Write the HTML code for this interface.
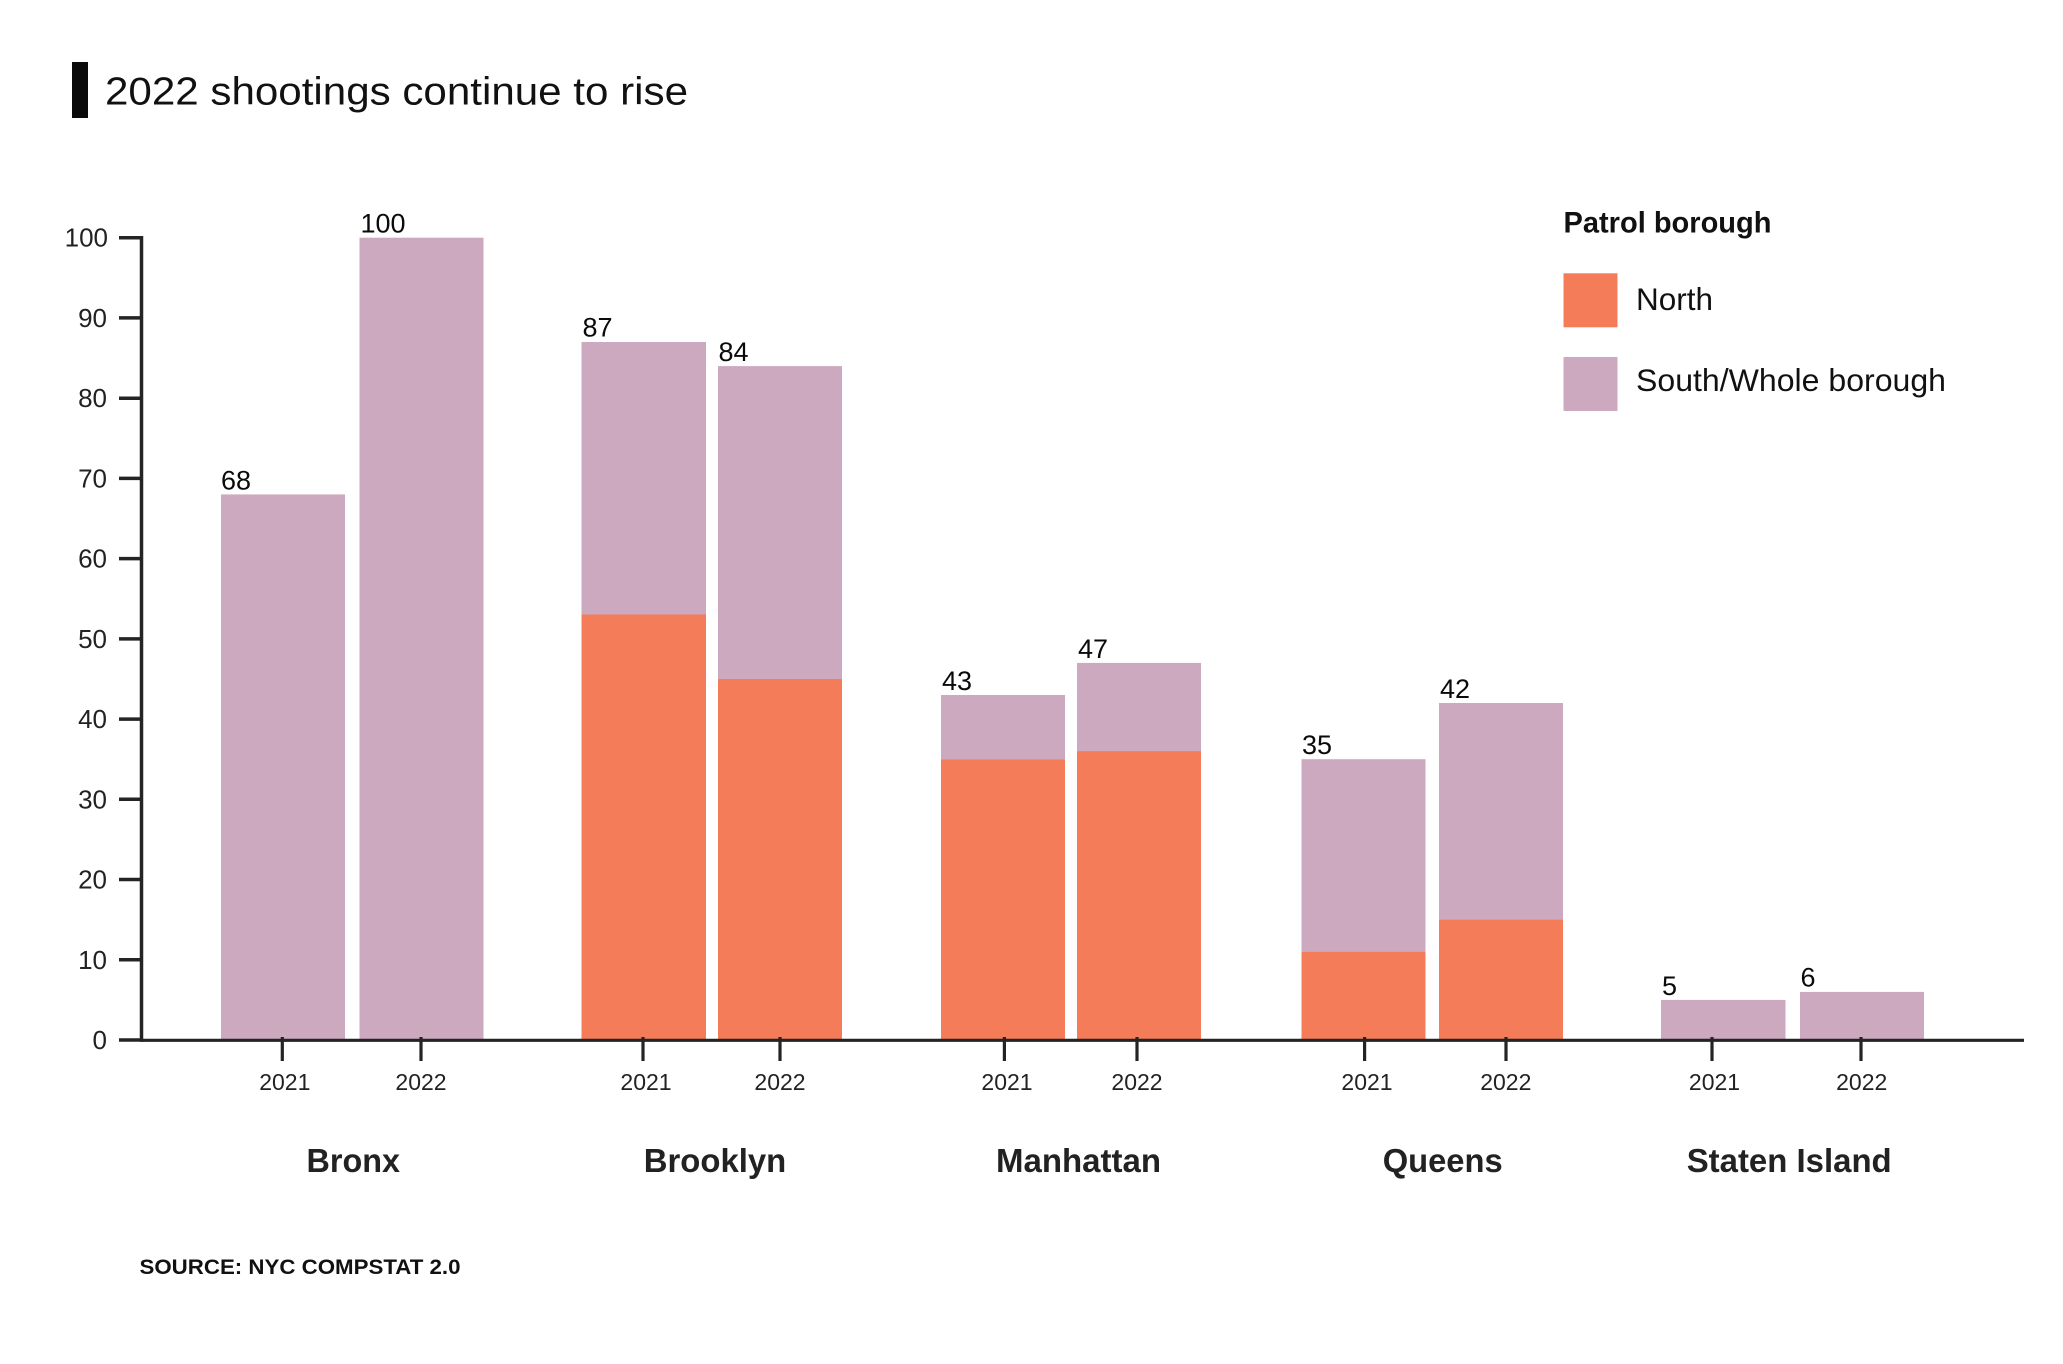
<!DOCTYPE html>
<html>
<head>
<meta charset="utf-8">
<style>
  html, body { margin: 0; padding: 0; background: #ffffff; }
  svg { display: block; }
  text { font-family: "Liberation Sans", Arial, sans-serif; }
</style>
</head>
<body>
<svg width="2063" height="1364" viewBox="0 0 2063 1364" xmlns="http://www.w3.org/2000/svg">
  <rect x="0" y="0" width="2063" height="1364" fill="#ffffff"/>

  <!-- Title -->
  <rect x="72" y="62" width="16" height="56" fill="#0a0a0a"/>
  <text x="105" y="104.5" font-size="39" fill="#111111" textLength="583" lengthAdjust="spacingAndGlyphs">2022 shootings continue to rise</text>

  <!-- Bars: South/Whole (pink) -->
  <g fill="#CDA9C0">
    <rect x="221" y="494.4" width="124" height="545.6"/>
    <rect x="359.5" y="237.7" width="124" height="802.3"/>
    <rect x="581.5" y="342" width="124.5" height="698"/>
    <rect x="718" y="366.1" width="124" height="673.9"/>
    <rect x="941" y="695" width="124" height="345"/>
    <rect x="1077" y="662.9" width="124" height="377.1"/>
    <rect x="1301.5" y="759.2" width="124" height="280.8"/>
    <rect x="1439" y="703" width="124" height="337"/>
    <rect x="1661" y="999.9" width="124.5" height="40.1"/>
    <rect x="1800" y="991.9" width="124" height="48.1"/>
  </g>
  <!-- Bars: North (orange) -->
  <g fill="#F47C58">
    <rect x="581.5" y="614.5" width="124.5" height="425.5"/>
    <rect x="718" y="679" width="124" height="361"/>
    <rect x="941" y="759.5" width="124" height="280.5"/>
    <rect x="1077" y="751.2" width="124" height="288.8"/>
    <rect x="1301.5" y="951.9" width="124" height="88.1"/>
    <rect x="1439" y="919.7" width="124" height="120.3"/>
  </g>

  <!-- Value labels -->
  <g font-size="27" fill="#0a0a0a">
    <text x="221" y="489.5">68</text>
    <text x="360.5" y="232.7">100</text>
    <text x="582.5" y="336.5">87</text>
    <text x="718.5" y="361">84</text>
    <text x="942" y="690">43</text>
    <text x="1078" y="658">47</text>
    <text x="1302" y="754">35</text>
    <text x="1440" y="698">42</text>
    <text x="1662" y="995">5</text>
    <text x="1800.5" y="986.5">6</text>
  </g>

  <!-- Y axis -->
  <g stroke="#242424" fill="none">
    <line x1="141.5" y1="236" x2="141.5" y2="1041.5" stroke-width="3.5"/>
    <line x1="119" y1="237.7" x2="143" y2="237.7" stroke-width="3.5"/>
    <line x1="119" y1="317.9" x2="143" y2="317.9" stroke-width="3.5"/>
    <line x1="119" y1="398.2" x2="143" y2="398.2" stroke-width="3.5"/>
    <line x1="119" y1="478.4" x2="143" y2="478.4" stroke-width="3.5"/>
    <line x1="119" y1="558.6" x2="143" y2="558.6" stroke-width="3.5"/>
    <line x1="119" y1="638.9" x2="143" y2="638.9" stroke-width="3.5"/>
    <line x1="119" y1="719.1" x2="143" y2="719.1" stroke-width="3.5"/>
    <line x1="119" y1="799.3" x2="143" y2="799.3" stroke-width="3.5"/>
    <line x1="119" y1="879.5" x2="143" y2="879.5" stroke-width="3.5"/>
    <line x1="119" y1="959.8" x2="143" y2="959.8" stroke-width="3.5"/>
    <line x1="119" y1="1040" x2="143" y2="1040" stroke-width="3.5"/>
  </g>
  <g font-size="26" fill="#222222" text-anchor="end">
    <text x="108" y="246.5">100</text>
    <text x="107" y="326.9">90</text>
    <text x="107" y="407.2">80</text>
    <text x="107" y="487.4">70</text>
    <text x="107" y="567.6">60</text>
    <text x="107" y="647.9">50</text>
    <text x="107" y="728.1">40</text>
    <text x="107" y="808.3">30</text>
    <text x="107" y="888.5">20</text>
    <text x="107" y="968.8">10</text>
    <text x="107" y="1049">0</text>
  </g>

  <!-- X axis -->
  <line x1="140" y1="1040.3" x2="2024" y2="1040.3" stroke="#242424" stroke-width="3.2"/>
  <g stroke="#242424" stroke-width="3.2">
    <line x1="282.3" y1="1037" x2="282.3" y2="1061"/>
    <line x1="421" y1="1037" x2="421" y2="1061"/>
    <line x1="643" y1="1037" x2="643" y2="1061"/>
    <line x1="780" y1="1037" x2="780" y2="1061"/>
    <line x1="1004.4" y1="1037" x2="1004.4" y2="1061"/>
    <line x1="1137" y1="1037" x2="1137" y2="1061"/>
    <line x1="1364.6" y1="1037" x2="1364.6" y2="1061"/>
    <line x1="1506" y1="1037" x2="1506" y2="1061"/>
    <line x1="1712" y1="1037" x2="1712" y2="1061"/>
    <line x1="1861" y1="1037" x2="1861" y2="1061"/>
  </g>

  <!-- Year labels -->
  <g font-size="23" fill="#222222" text-anchor="middle">
    <text x="284.8" y="1090">2021</text>
    <text x="421" y="1090">2022</text>
    <text x="646" y="1090">2021</text>
    <text x="780" y="1090">2022</text>
    <text x="1007" y="1090">2021</text>
    <text x="1137" y="1090">2022</text>
    <text x="1367" y="1090">2021</text>
    <text x="1505.8" y="1090">2022</text>
    <text x="1714.5" y="1090">2021</text>
    <text x="1861.7" y="1090">2022</text>
  </g>

  <!-- Borough labels -->
  <g font-size="33" font-weight="bold" fill="#222222" text-anchor="middle">
    <text x="353.3" y="1172" textLength="93.5" lengthAdjust="spacingAndGlyphs">Bronx</text>
    <text x="715" y="1172" textLength="142.5" lengthAdjust="spacingAndGlyphs">Brooklyn</text>
    <text x="1078.5" y="1172" textLength="165" lengthAdjust="spacingAndGlyphs">Manhattan</text>
    <text x="1442.7" y="1172" textLength="120" lengthAdjust="spacingAndGlyphs">Queens</text>
    <text x="1789.2" y="1172" textLength="205" lengthAdjust="spacingAndGlyphs">Staten Island</text>
  </g>

  <!-- Source -->
  <text x="139.5" y="1274" font-size="21" font-weight="bold" fill="#111111" textLength="321" lengthAdjust="spacingAndGlyphs">SOURCE: NYC COMPSTAT 2.0</text>

  <!-- Legend -->
  <text x="1563.5" y="232.3" font-size="30" font-weight="bold" fill="#111111" textLength="208" lengthAdjust="spacingAndGlyphs">Patrol borough</text>
  <rect x="1563.5" y="273.3" width="54" height="54" fill="#F47C58"/>
  <text x="1636" y="310" font-size="31.5" fill="#111111" textLength="77" lengthAdjust="spacingAndGlyphs">North</text>
  <rect x="1563.5" y="357" width="54" height="54" fill="#CDA9C0"/>
  <text x="1636" y="391" font-size="31.5" fill="#111111" textLength="310" lengthAdjust="spacingAndGlyphs">South/Whole borough</text>
</svg>
</body>
</html>
